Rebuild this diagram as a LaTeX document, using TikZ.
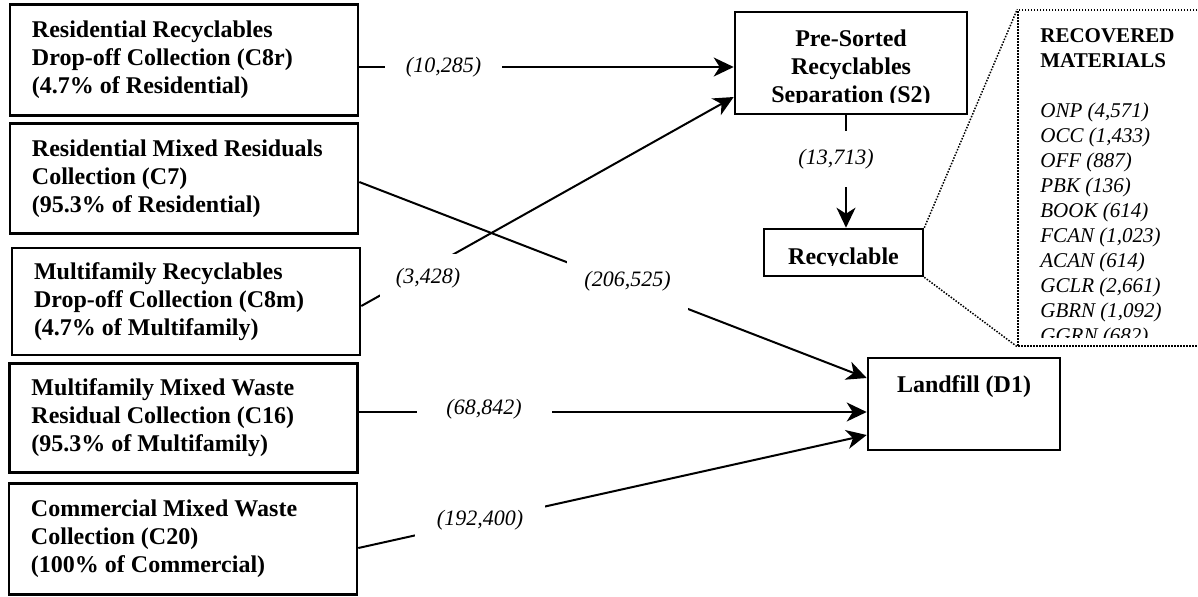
\documentclass[tikz,border=0pt]{standalone}
\usepackage{fontspec}
\setmainfont{Liberation Serif}
\usetikzlibrary{arrows.meta}
\begin{document}
\begin{tikzpicture}[x=0.5pt,y=-0.5pt,
  box/.style={draw, line width=1.3pt, inner sep=0pt},
  srcbox/.style={box, align=flush left, text width=152pt, inner xsep=11pt,
    minimum width=174pt, font=\fontsize{12}{14}\selectfont\bfseries},
  flow/.style={line width=1pt, -{Stealth[length=10pt,width=9.5pt,inset=3pt]}},
  qty/.style={fill=white, inner sep=0pt, font=\fontsize{11}{13}\selectfont\itshape},
  zoomline/.style={line width=0.75pt, dash pattern=on 0.75pt off 0.75pt},
  btext/.style={inner sep=0pt, font=\fontsize{12}{14}\selectfont\bfseries}
]
\useasboundingbox (0,0) rectangle (1198,596);
\clip (0,0) rectangle (1198,596);

% collection sources
\node[srcbox, minimum height=55.5pt] (c8r) at (184,60)
  {Residential Recyclables\\Drop-off Collection (C8r)\\(4.7\% of Residential)};
\node[srcbox, minimum height=55pt] (c7) at (184,178.5)
  {Residential Mixed Residuals\\Collection (C7)\\(95.3\% of Residential)};
\node[srcbox, minimum height=53.5pt] (c8m) at (186,301.5)
  {Multifamily Recyclables\\Drop-off Collection (C8m)\\(4.7\% of Multifamily)};
\node[srcbox, minimum height=54.5pt] (c16) at (183.5,418)
  {Multifamily Mixed Waste\\Residual Collection (C16)\\(95.3\% of Multifamily)};
\node[srcbox, minimum height=55.5pt] (c20) at (183,539)
  {Commercial Mixed Waste\\Collection (C20)\\(100\% of Commercial)};

% separation facility
\node[box, minimum width=116pt, minimum height=51pt] (s2) at (851,63) {};
\begin{scope}
  \clip (735,12) rectangle (967,102);
  \node[btext, align=center, anchor=north] (s2txt) at (851,29)
    {Pre-Sorted\\Recyclables\\Separation (S2)};
\end{scope}

% recyclable output
\node[box, minimum width=79.5pt, minimum height=23.5pt] (rec) at (843.5,252.5) {};
\begin{scope}
  \clip (764,229) rectangle (923,265);
  \node[btext, anchor=base] (rectxt) at (843.5,264) {Recyclable};
\end{scope}

% landfill
\node[box, minimum width=96pt, minimum height=46pt] (d1) at (964,404) {};
\node[btext, anchor=base] (d1txt) at (964,392) {Landfill (D1)};

% recovered materials breakdown
\node[draw, zoomline, inner sep=0pt, minimum width=101pt, minimum height=168pt] (mat) at (1119,178) {};
\begin{scope}
  \clip (1020,12) rectangle (1198,337);
  \node[anchor=north west, inner sep=0pt, align=flush left,
        font=\fontsize{10.5}{12.5}\selectfont\itshape] (mattxt) at (1040,28)
    {{\upshape\bfseries RECOVERED}\\{\upshape\bfseries MATERIALS}\\[12.5pt]
     ONP (4,571)\\OCC (1,433)\\OFF (887)\\PBK (136)\\BOOK (614)\\
     FCAN (1,023)\\ACAN (614)\\GCLR (2,661)\\GBRN (1,092)\\GGRN (682)};
\end{scope}

% flows
\draw[flow] ([yshift=-3.5pt]c8r.east) -- ([yshift=-2pt]s2.west);
\draw[flow] ([yshift=-2.25pt]c8m.east) -- ([yshift=-17pt]s2.west);
\draw[flow] ([yshift=-1.75pt]c7.east) -- ([yshift=13pt]d1.west);
\draw[flow] ([yshift=3pt]c16.east) -- ([yshift=-4pt]d1.west);
\draw[flow] ([yshift=-4.5pt]c20.east) -- ([yshift=-15.5pt]d1.west);
\draw[flow] ([xshift=-2.5pt]s2.south) -- ([xshift=1.25pt]rec.north);
\draw[zoomline] (rec.north east) -- (mat.north west);
\draw[zoomline] (rec.south east) -- (mat.south west);

% flow quantities
\node[qty, minimum width=58.5pt, minimum height=14pt] (q1) at (443.5,67) {(10,285)};
\node[qty, minimum width=48pt, minimum height=24pt] (q2) at (428,278) {(3,428)};
\node[qty, minimum width=60.5pt, minimum height=30pt] (q3) at (627.5,281) {(206,525)};
\node[qty, minimum width=67.5pt, minimum height=14pt] (q4) at (484,409) {(68,842)};
\node[qty, minimum width=65pt, minimum height=18pt] (q5) at (480,520) {(192,400)};
\node[qty, minimum width=40pt, minimum height=28pt] (q6) at (836,159) {(13,713)};
\end{tikzpicture}
\end{document}
